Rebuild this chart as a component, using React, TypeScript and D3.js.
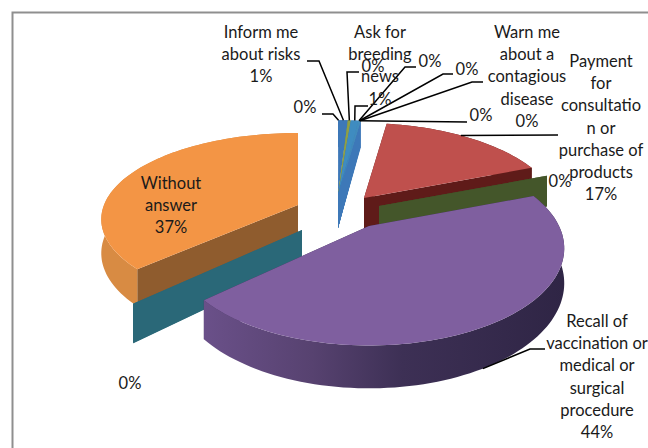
import React from "react";
import * as d3 from "d3";

// chart data, in pie order (clockwise from the top)
const categories = [
  "",
  "Inform me about risks",
  "",
  "Ask for breeding news",
  "",
  "",
  "Warn me about a contagious disease",
  "",
  "Payment for consultation or purchase of products",
  "",
  "Recall of vaccination or medical or surgical procedure",
  "",
  "Without answer",
];
const values = [0.1, 0.9, 0.3, 0.8, 0.05, 0.05, 0.05, 0.05, 17, 0.05, 44, 0.05, 37];

// the wrapped label text as it breaks in the original
const labelLines = [
  [],
  ["Inform me", "about risks"],
  [],
  ["Ask for", "breeding", "news"],
  [],
  [],
  ["Warn me", "about a", "contagious", "disease"],
  [],
  ["Payment", "for", "consultatio", "n or", "purchase of", "products"],
  [],
  ["Recall of", "vaccination or", "medical or", "surgical", "procedure"],
  [],
  ["Without", "answer"],
];

// styling per slice
const topColors = ["#3d78b8", "#3d78b8", "#8f9f45", "#3f8cc0", "#4aa0c0", "#4aa0c0", "#4aa0c0", "#4aa0c0", "#bf504d", "#44562a", "#7f5f9f", "#2a6878", "#f39545"];
const wallColors = ["#3d78b8", "#3d78b8", "#7f9040", "#3d78b8", "#3d78b8", "#3d78b8", "#3d78b8", "#3d78b8", "#5f1b19", "#44562a", "#3a2d52", "#2a6878", "#8f5c2e"];
const sideColors = ["#3d78b8", "#3d78b8", "#7f9040", "#3d78b8", "#3d78b8", "#3d78b8", "#3d78b8", "#3d78b8", "#5f1b19", "#44562a", "url(#purpleSide)", "#2a6878", "#d88b43"];
const paintOrder = [0, 1, 2, 3, 4, 5, 6, 7, 12, 11, 8, 9, 10];

// explosion of each slice, relative to the pie centre
const centre = { x: 340, y: 210 };
const explode: [number, number][] = [
  [-2, -15], [-2, -15], [-2, -15], [-2, -15], [-2, -15], [-2, -15], [-2, -15], [-2, -15],
  [24, -12], [39, -4], [29, 16], [-38, 20], [-42, -5],
];

// perspective of the disc
const disc = { rx: 194, ry: 92, persp: 0.23 };
const discFor = (i: number) => {
  if (i === 10) return { ...disc, rx: 190 };
  if (i === 12) return { ...disc, ry: 84, persp: 0.166 };
  return disc;
};
const depth = 33;

// label placement: [centre x, first baseline]
const labelPos: [number, number][] = [
  [305, 113], [261, 38], [373, 72], [380, 38], [430, 67], [467, 75], [527, 38], [481, 121],
  [601, 67], [560, 187], [597, 327], [130, 389], [171, 189],
];
// start of each leader, next to its label; the end comes from the slice
const leaderFrom: ([number, number][] | null)[] = [
  [[322, 114], [333, 114]],
  [[307, 61], [319, 61]],
  [[359, 72], [347, 72]],
  [[368, 106], [355, 106]],
  [[416, 67], [405, 67]],
  [[453, 74], [443, 74]],
  [[483, 82], [472, 82]],
  [[467, 122]],
  [[558, 135]],
  null,
  [[545, 349], [530, 349]],
  null,
  null,
];
// where along the slice's arc a leader lands
const leaderAt = (i: number) => (i === 8 ? 0.46 : i === 10 ? 0.52 : 0.5);

const pct = d3.format(".0%");
const total = d3.sum(values);
const pie = d3.pie<number>().sort(null).value((d) => d).startAngle(0).endAngle(2 * Math.PI);
const arcs = pie(values);
const path = d3.line<[number, number]>().x((d) => d[0]).y((d) => d[1]);

// point on the disc rim (r=1) or the apex (r=0) of slice i, optionally on the bottom face
const project = (i: number, a: number, r: number, bottom = false): [number, number] => {
  const { rx, ry, persp } = discFor(i);
  const s = 1 / (1 + persp * r * Math.cos(a));
  const x = centre.x + explode[i][0] + rx * r * Math.sin(a) * s;
  const y = centre.y + explode[i][1] - ry * r * Math.cos(a) * s + (bottom ? depth * s : 0);
  return [x, y];
};

const rimAngles = (start: number, end: number) => {
  const n = Math.max(2, Math.ceil((end - start) / 0.03));
  return d3.range(n + 1).map((k) => start + ((end - start) * k) / n);
};

const Slice: React.FC<{ i: number }> = ({ i }) => {
  const { startAngle, endAngle } = arcs[i];
  const angles = rimAngles(startAngle, endAngle);
  const rimTop = angles.map((a) => project(i, a, 1));
  const rimBottom = angles.map((a) => project(i, a, 1, true)).reverse();
  const wall = (a: number) =>
    path([project(i, a, 0), project(i, a, 1), project(i, a, 1, true), project(i, a, 0, true)]) + "Z";
  return (
    <g>
      <path d={wall(startAngle)} fill={wallColors[i]} />
      <path d={wall(endAngle)} fill={wallColors[i]} />
      <path d={path([...rimTop, ...rimBottom]) + "Z"} fill={sideColors[i]} />
      <path d={path([project(i, 0, 0), ...rimTop]) + "Z"} fill={topColors[i]} />
    </g>
  );
};

export default function App() {
  return (
    <svg
      width={648}
      height={448}
      style={{ position: "absolute", left: 0, top: 0, background: "#fff" }}
      fontFamily="Lato, 'Open Sans', sans-serif"
      fontSize={16.5}
    >
      <defs>
        <linearGradient id="purpleSide" gradientUnits="userSpaceOnUse" x1={204} x2={564} y1={0} y2={0}>
          <stop offset="0" stopColor="#6a5089" />
          <stop offset="0.3" stopColor="#574270" />
          <stop offset="0.55" stopColor="#3d3055" />
          <stop offset="1" stopColor="#2f2545" />
        </linearGradient>
      </defs>

      {/* frame, only top and left survive in the scan */}
      <path d="M12.5 448V12.5H648" fill="none" stroke="#8f8f8f" strokeWidth={2} />

      {paintOrder.map((i) => (
        <Slice key={i} i={i} />
      ))}

      {/* leader lines */}
      {leaderFrom.map((pts, i) => {
        if (!pts) return null;
        const at = arcs[i].startAngle + (arcs[i].endAngle - arcs[i].startAngle) * leaderAt(i);
        const end = project(i, at, 1, i === 10);
        return <path key={i} d={path([...pts, end])!} fill="none" stroke="#000" strokeWidth={1.5} />;
      })}

      {/* labels */}
      {categories.map((name, i) => {
        const lines = [...labelLines[i], pct(values[i] / total)];
        return (
          <text key={i} textAnchor="middle" fill="#1a1a1a" aria-label={name || undefined}>
            {lines.map((t, k) => (
              <tspan key={k} x={labelPos[i][0]} y={labelPos[i][1] + k * 22.2}>
                {t}
              </tspan>
            ))}
          </text>
        );
      })}
    </svg>
  );
}
